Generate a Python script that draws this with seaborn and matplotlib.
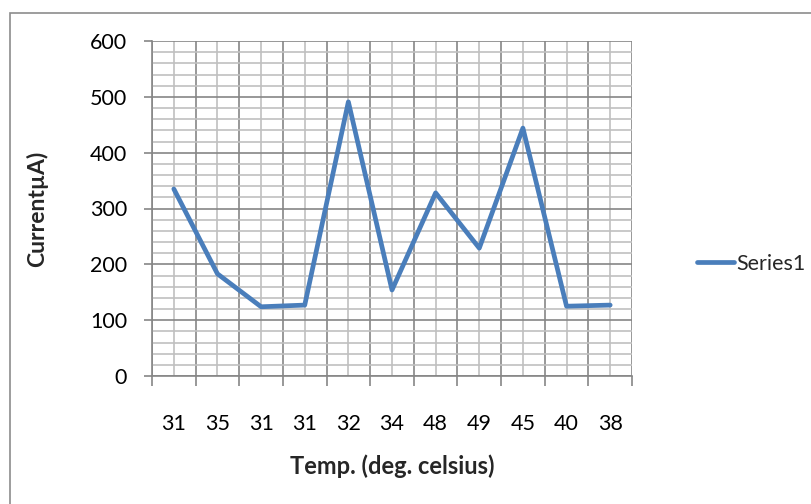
import matplotlib
matplotlib.use("Agg")
import matplotlib.pyplot as plt
import seaborn as sns
import pandas as pd
import numpy as np
from matplotlib.patches import Rectangle
from matplotlib.ticker import MultipleLocator, FixedLocator

categories = ["31", "35", "31", "31", "32", "34", "48", "49", "45", "40", "38"]
current = [335, 183, 124, 127, 491, 154, 328, 229, 444, 125, 127]
y_ticks = [0, 100, 200, 300, 400, 500, 600]

sns.set_theme(style="white")
plt.rcParams['font.family'] = ['Lato', 'DejaVu Sans']

df = pd.DataFrame({"pos": np.arange(len(categories)), "current": current, "series": "Series1"})

fig = plt.figure(figsize=(8.11, 5.04), dpi=100)
fig.patches.append(Rectangle((10/811, -0.1), 1.2, 1 - 13/504 + 0.1, transform=fig.transFigure,
                             fill=False, edgecolor="#8c8c8c", linewidth=1.2))
ax = fig.add_axes([152/811, 1 - 376/504, 480/811, 335/504])

sns.lineplot(data=df, x="pos", y="current", hue="series", palette=["#4a7ebb"],
             linewidth=3.4, ax=ax, zorder=5)

ax.set_xlim(-0.5, len(categories) - 0.5)
ax.set_ylim(0, 600)
ax.yaxis.set_major_locator(FixedLocator(y_ticks))
ax.yaxis.set_minor_locator(MultipleLocator(20))
ax.xaxis.set_major_locator(FixedLocator(np.arange(len(categories) + 1) - 0.5))
ax.xaxis.set_minor_locator(FixedLocator(np.arange(len(categories))))
ax.set_xticklabels([""] * (len(categories) + 1))
ax.set_xticklabels(categories, minor=True)

ax.grid(which="major", color="#868686", linewidth=1.2)
ax.grid(which="minor", color="#c0c0c0", linewidth=1.2)
ax.set_axisbelow(True)

for s in ["top", "right"]:
    ax.spines[s].set_visible(False)
ax.spines["left"].set_color("#868686")
ax.spines["bottom"].set_color("#868686")
ax.spines["left"].set_linewidth(1.2)
ax.spines["bottom"].set_linewidth(1.2)

ax.tick_params(axis="y", which="major", left=True, length=6, width=1.2, color="#868686",
               labelsize=15.5, pad=12, labelcolor="black")
ax.tick_params(axis="y", which="minor", left=False)
ax.tick_params(axis="x", which="major", bottom=True, length=7, width=1.2, color="#868686")
ax.tick_params(axis="x", which="minor", bottom=False, labelsize=15.5, pad=23, labelcolor="black")

ax.set_xlabel("Temp. (deg. celsius)", fontsize=17, fontweight="bold", labelpad=15)
ax.set_ylabel("CurrentµA)", fontsize=16.5, fontweight="bold", labelpad=30)

leg = ax.legend(loc="center left", bbox_to_anchor=(1.095, 0.335), frameon=False,
                fontsize=15.5, handlelength=1.7, handletextpad=0.12)
for h in leg.get_lines():
    h.set_linewidth(3.4)

fig.savefig("out.png", dpi=100)
